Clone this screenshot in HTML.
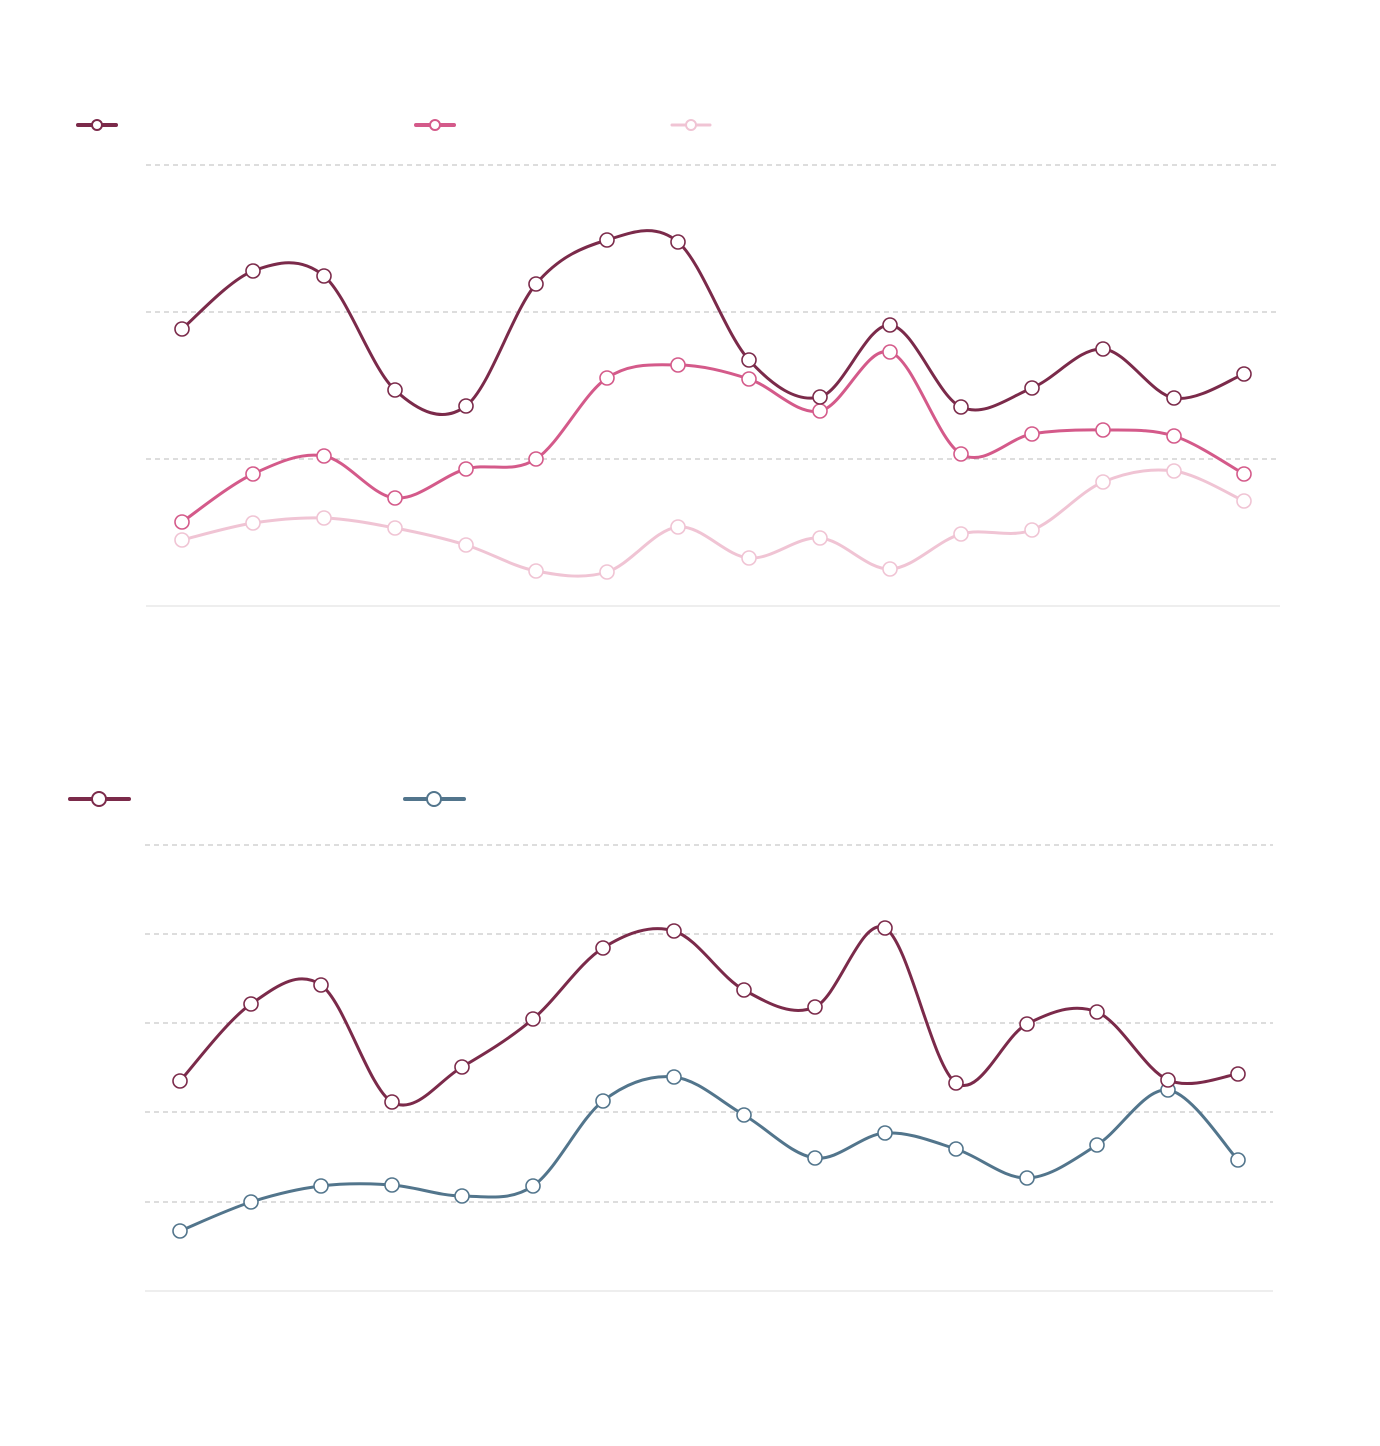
<!DOCTYPE html>
<html><head><meta charset="utf-8"><style>html,body{margin:0;padding:0;background:#fff;}svg{display:block}</style></head>
<body>
<svg id="s" width="1380" height="1446" xmlns="http://www.w3.org/2000/svg">
<g transform="translate(0,1)">
<g stroke="#bbb" stroke-dasharray="5,4" stroke-width="1">
<line x1="146" x2="1280" y1="164" y2="164"/><line x1="146" x2="1280" y1="311" y2="311"/><line x1="146" x2="1280" y1="458" y2="458"/>
<line x1="145" x2="1273" y1="844" y2="844"/><line x1="145" x2="1273" y1="933" y2="933"/><line x1="145" x2="1273" y1="1022" y2="1022"/><line x1="145" x2="1273" y1="1111" y2="1111"/><line x1="145" x2="1273" y1="1201" y2="1201"/>
</g>
<line x1="146" x2="1280" y1="605" y2="605" stroke="#ddd"/>
<line x1="145" x2="1273" y1="1290" y2="1290" stroke="#ddd"/>
<g stroke-linecap="round">
<line x1="78" x2="116" y1="124" y2="124" stroke="#7b2a4a" stroke-width="4"/><circle cx="97" cy="124" r="5" fill="#fff" stroke="#7b2a4a" stroke-width="2"/>
<line x1="416" x2="454" y1="124" y2="124" stroke="#d45a8a" stroke-width="4"/><circle cx="435" cy="124" r="5" fill="#fff" stroke="#d45a8a" stroke-width="2"/>
<line x1="672" x2="710" y1="124" y2="124" stroke="#f0c4d4" stroke-width="3"/><circle cx="691" cy="124" r="5" fill="#fff" stroke="#f0c4d4" stroke-width="2"/>
<line x1="70" x2="129" y1="798" y2="798" stroke="#7b2a4a" stroke-width="4"/><circle cx="99" cy="798" r="7" fill="#fff" stroke="#7b2a4a" stroke-width="2"/>
<line x1="405" x2="464" y1="798" y2="798" stroke="#52758c" stroke-width="4"/><circle cx="434" cy="798" r="7" fill="#fff" stroke="#52758c" stroke-width="2"/>
</g>
<g id="g"></g>
</g>
</svg>
<script>
var X1=[182,253,324,395,466,536,607,678,749,820,890,961,1032,1103,1174,1244];
var X2=[180,251,321,392,462,533,603,674,744,815,885,956,1027,1097,1168,1238];
var S=[
[X1,[539,522,517,527,544,570,571,526,557,537,568,533,529,481,470,500],"#f0c4d4",3],
[X1,[521,473,455,497,468,458,377,364,378,410,351,453,433,429,435,473],"#d45a8a",3],
[X1,[328,270,275,389,405,283,239,241,359,396,324,406,387,348,397,373],"#7b2a4a",3],
[X2,[1230,1201,1185,1184,1195,1185,1100,1076,1114,1157,1132,1148,1177,1144,1089,1159],"#52758c",3],
[X2,[1080,1003,984,1101,1066,1018,947,930,989,1006,927,1082,1023,1011,1079,1073],"#7b2a4a",3]];
function cr(x,y){var n=x.length,p="M"+x[0]+","+y[0];
for(var i=0;i<n-1;i++){var x0=x[Math.max(i-1,0)],y0=y[Math.max(i-1,0)],x3=x[Math.min(i+2,n-1)],y3=y[Math.min(i+2,n-1)];
p+="C"+(x[i]+(x[i+1]-x0)/6)+","+(y[i]+(y[i+1]-y0)/6)+" "+(x[i+1]-(x3-x[i])/6)+","+(y[i+1]-(y3-y[i])/6)+" "+x[i+1]+","+y[i+1];}return p;}
var h="";S.forEach(function(s){h+='<path d="'+cr(s[0],s[1])+'" fill="none" stroke="'+s[2]+'" stroke-width="'+s[3]+'"/>';
s[0].forEach(function(x,i){h+='<circle cx="'+x+'" cy="'+s[1][i]+'" r="7" fill="#fff" stroke="'+s[2]+'" stroke-width="1.6"/>';});});
document.getElementById("g").innerHTML=h;
</script>
</body></html>
